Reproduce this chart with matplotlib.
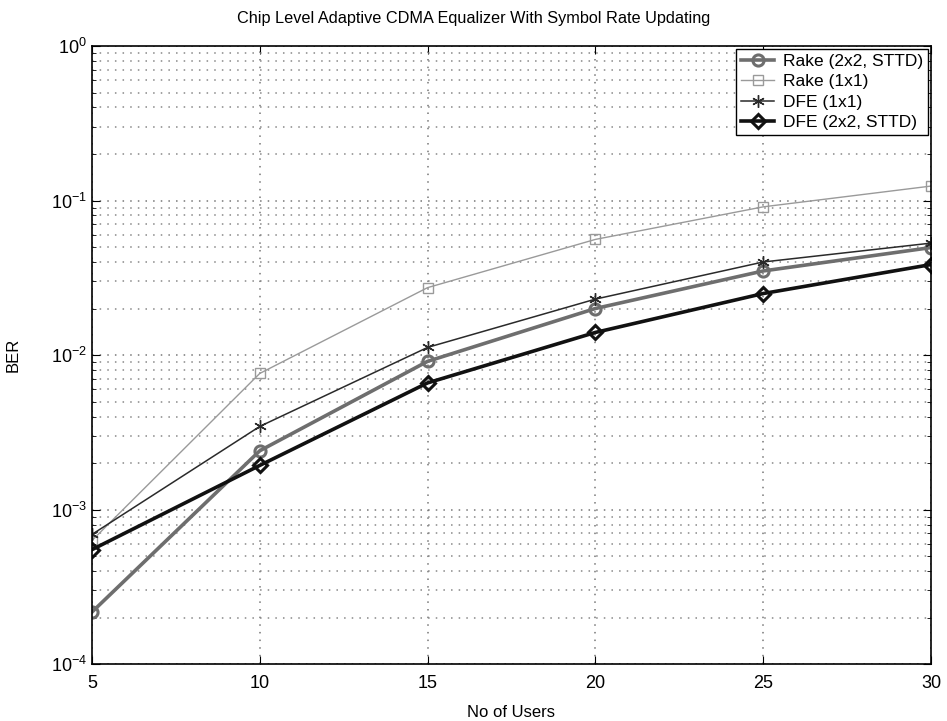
import matplotlib
matplotlib.use('Agg')
import matplotlib.pyplot as plt
from matplotlib.ticker import LogLocator, NullFormatter

plt.rcParams['font.family'] = ['Liberation Sans', 'DejaVu Sans']

users = [5, 10, 15, 20, 25, 30]
rake_2x2 = [2.17e-4, 2.4e-3, 9.1e-3, 2.0e-2, 3.5e-2, 4.96e-2]
rake_1x1 = [6.3e-4, 7.6e-3, 2.73e-2, 5.6e-2, 9.1e-2, 0.124]
dfe_1x1 = [6.9e-4, 3.45e-3, 1.12e-2, 2.3e-2, 4.0e-2, 5.3e-2]
dfe_2x2 = [5.5e-4, 1.93e-3, 6.6e-3, 1.4e-2, 2.5e-2, 3.85e-2]

fig = plt.figure(figsize=(9.47, 7.21), dpi=100)
ax = fig.add_axes([0.0971, 0.0790, 0.886, 0.8572])

ax.semilogy(users, rake_2x2, '-o', color='#6e6e6e', lw=2.6, markersize=8,
            mfc='none', mew=2.2, label='Rake (2x2, STTD)')
ax.semilogy(users, rake_1x1, '-s', color='#9a9a9a', lw=1.0, markersize=7,
            mfc='none', mew=1.0, label='Rake (1x1)')
ax.semilogy(users, dfe_1x1, '-', marker=(6, 2, 0), color='#2a2a2a', lw=1.1,
            markersize=9, mew=1.0, label='DFE (1x1)')
ax.semilogy(users, dfe_2x2, '-D', color='#111111', lw=2.6, markersize=7,
            mfc='none', mew=2.2, label='DFE (2x2, STTD)')

ax.set_xlim(5, 30)
ax.set_ylim(1e-4, 1)
ax.set_xticks([5, 10, 15, 20, 25, 30])
ax.yaxis.set_major_locator(LogLocator(base=10, numticks=10))
ax.yaxis.set_minor_locator(LogLocator(base=10, subs=range(2, 10), numticks=20))
ax.yaxis.set_minor_formatter(NullFormatter())

dots = (0, (1, 4))
ax.grid(True, which='major', linestyle=dots, color='#777777', lw=1.1)
ax.grid(True, which='minor', axis='y', linestyle=dots, color='#888888', lw=1.1)
ax.tick_params(which='both', direction='in', top=True, right=True, labelsize=13)
ax.tick_params(axis='x', pad=8)
ax.tick_params(which='major', length=6)
ax.tick_params(which='minor', length=3)
for s in ax.spines.values():
    s.set_linewidth(1.2)

fig.text(0.5, 0.975, 'Chip Level Adaptive CDMA Equalizer With Symbol Rate Updating',
         fontsize=11.7, ha='center', va='center')
ax.set_xlabel('No of Users', fontsize=12)
ax.xaxis.set_label_coords(0.5, -0.066)
ax.set_ylabel('BER', fontsize=12, labelpad=22)

leg = ax.legend(loc='upper right', fontsize=12.5, fancybox=False, framealpha=1,
                edgecolor='black', borderaxespad=0.15, handlelength=1.9,
                labelspacing=0.3, borderpad=0.3, handletextpad=0.5)
leg.get_frame().set_linewidth(1.0)

fig.savefig('out.png', dpi=100)
